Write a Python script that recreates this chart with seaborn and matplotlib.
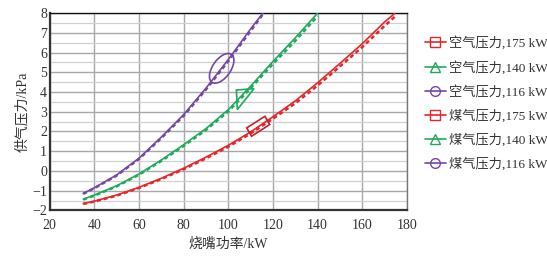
import pandas as pd
import seaborn as sns
import matplotlib.pyplot as plt
from matplotlib.lines import Line2D
from matplotlib.patches import Ellipse, Polygon
from matplotlib.transforms import ScaledTranslation

# burner power (kW) and supply pressure (kPa)
power_116 = [35, 40, 50, 60, 70, 80, 90, 100, 110, 115.5]
air_116 = [-1.14, -0.85, -0.2, 0.65, 1.72, 2.86, 4.2, 5.65, 7.2, 8.0]
gas_116 = [-1.16, -0.87, -0.23, 0.61, 1.67, 2.8, 4.13, 5.57, 7.1, 7.95]

power_140 = [35, 40, 50, 60, 70, 80, 90, 100, 110, 120, 130, 140]
air_140 = [-1.43, -1.22, -0.75, -0.15, 0.56, 1.33, 2.15, 3.11, 4.3, 5.55, 6.75, 8.0]
gas_140 = [-1.45, -1.25, -0.78, -0.19, 0.51, 1.27, 2.08, 3.02, 4.2, 5.43, 6.6, 7.85]

power_175 = [35, 40, 50, 60, 70, 80, 90, 100, 110, 120, 130, 140, 150, 160, 170, 174.7]
air_175 = [-1.65, -1.53, -1.22, -0.83, -0.37, 0.14, 0.7, 1.3, 1.98, 2.75, 3.55, 4.47,
           5.45, 6.45, 7.55, 8.0]
power_175g = [35, 40, 50, 60, 70, 80, 90, 100, 110, 120, 130, 140, 150, 160, 170, 175.4]
gas_175 = [-1.67, -1.55, -1.25, -0.86, -0.41, 0.09, 0.64, 1.23, 1.9, 2.65, 3.43, 4.33,
           5.3, 6.28, 7.35, 7.9]

labels = ["空气压力,175 kW", "空气压力,140 kW", "空气压力,116 kW",
          "煤气压力,175 kW", "煤气压力,140 kW", "煤气压力,116 kW"]

red = "#e5262b"
green = "#1fab5c"
purple = "#7446a6"

sns.set_style("white")
plt.rcParams["font.family"] = ["Liberation Serif", "Noto Sans CJK SC"]

fig = plt.figure(figsize=(5.47, 2.56), dpi=100)
ax = fig.add_axes([0.091, 0.178, 0.653, 0.771])

series = [
    (power_175g, gas_175, red, "gas"), (power_175, air_175, red, "air"),
    (power_140, gas_140, green, "gas"), (power_140, air_140, green, "air"),
    (power_116, gas_116, purple, "gas"), (power_116, air_116, purple, "air"),
]
for xs, ys, c, kind in series:
    df = pd.DataFrame({"p": xs, "v": ys})
    if kind == "gas":
        sns.lineplot(data=df, x="p", y="v", ax=ax, color=c, lw=1.8,
                     linestyle=(0, (1.6, 1.2)), zorder=3)
    else:
        sns.lineplot(data=df, x="p", y="v", ax=ax, color=c, lw=1.2, zorder=4)

# highlight marks on the curves (ellipse sized in inches, centred in data coords)
ell_tr = fig.dpi_scale_trans + ScaledTranslation(97, 5.2, ax.transData)
ax.add_patch(Ellipse((0, 0), 0.34, 0.18, angle=55, fill=False, ec=purple, lw=1.2,
                     transform=ell_tr, zorder=5))
ax.add_patch(Polygon([(103.6, 4.1), (111.5, 4.17), (104.0, 3.11)], closed=True,
                     fill=False, ec=green, lw=1.2, zorder=5))
ax.add_patch(Polygon([(108.2, 2.18), (116.4, 2.77), (118.5, 2.35), (110.4, 1.76)],
                     closed=True, fill=False, ec="#c0222a", lw=1.2, zorder=5))

ax.set_xlim(20, 180)
ax.set_ylim(-2, 8)
ax.set_xticks(range(20, 181, 20))
ax.set_yticks(range(-2, 9))
ax.set_yticks([y + 0.5 for y in range(-2, 8)], minor=True)
ax.set_yticklabels(["\u2212" + str(-y) if y < 0 else str(y) for y in range(-2, 9)])
ax.grid(True, which="major", color="#a8a8a8", lw=1.0)
ax.grid(True, which="minor", axis="y", color="#d0d0d0", lw=0.9)
ax.tick_params(axis="both", which="both", length=0, labelsize=10, colors="#333333")
ax.tick_params(axis="x", pad=6)
ax.tick_params(axis="y", pad=2)
for s in ["left", "bottom"]:
    ax.spines[s].set_color("#333333")
    ax.spines[s].set_linewidth(1.6)
ax.spines["top"].set_color("#111111")
ax.spines["top"].set_linewidth(1.0)
ax.spines["right"].set_color("#777777")
ax.spines["right"].set_linewidth(1.0)

ax.set_xlabel("烧嘴功率/kW", fontsize=10, color="#333333", labelpad=4)
ax.set_ylabel("供气压力/kPa", fontsize=10, color="#333333", labelpad=2)

markers = ["s", "^", "o"] * 2
colors = [red, green, purple] * 2
handles = [Line2D([], [], color=c, marker=m, markerfacecolor="none", markeredgecolor=c,
                  markersize=7, lw=1.2) for c, m in zip(colors, markers)]
fig.legend(handles, labels, loc="upper left", bbox_to_anchor=(0.755, 0.905),
           frameon=False, fontsize=9.5, handlelength=1.6, handletextpad=0.2,
           labelspacing=0.8, labelcolor="#333333")

plt.savefig("out.png", dpi=100)
